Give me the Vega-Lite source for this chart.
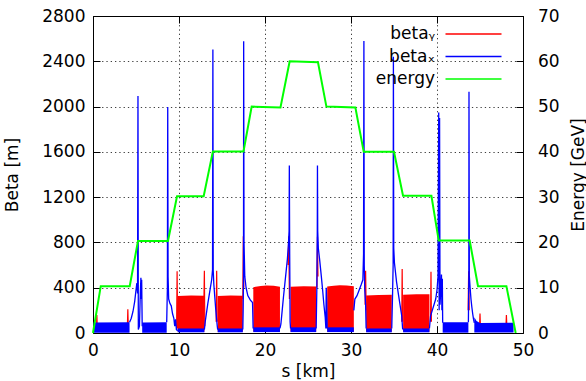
{
  "$schema": "https://vega.github.io/schema/vega-lite/v6.json",
  "width": 430,
  "height": 317,
  "autosize": {"type": "none"},
  "padding": {"left": 93, "top": 16, "right": 63, "bottom": 48},
  "background": "white",
  "config": {
    "font": "DejaVu Sans",
    "view": {"stroke": "black", "strokeWidth": 1},
    "axis": {
      "labelFont": "DejaVu Sans", "labelFontSize": 17, "labelColor": "black",
      "titleFont": "DejaVu Sans", "titleFontSize": 17, "titleFontWeight": "normal", "titleColor": "black",
      "domain": false, "tickColor": "black", "tickSize": -7, "tickWidth": 1,
      "gridColor": "black", "gridDash": [1.3, 3], "gridOpacity": 0.75, "gridWidth": 1,
      "labelFlush": false, "labelOverlap": false
    }
  },
  "datasets": {
    "ybands": [
      {"series": "beta_y", "seg": "R1", "s": 9.85, "lo": 10, "hi": 326},
      {"series": "beta_y", "seg": "R1", "s": 11.4, "lo": 10, "hi": 332},
      {"series": "beta_y", "seg": "R1", "s": 12.95, "lo": 10, "hi": 328},
      {"series": "beta_y", "seg": "R2", "s": 14.5, "lo": 10, "hi": 326},
      {"series": "beta_y", "seg": "R2", "s": 16.0, "lo": 10, "hi": 332},
      {"series": "beta_y", "seg": "R2", "s": 17.42, "lo": 10, "hi": 328},
      {"series": "beta_y", "seg": "R3", "s": 18.64, "lo": 10, "hi": 405},
      {"series": "beta_y", "seg": "R3", "s": 19.5, "lo": 10, "hi": 416},
      {"series": "beta_y", "seg": "R3", "s": 20.2, "lo": 10, "hi": 420},
      {"series": "beta_y", "seg": "R3", "s": 21.0, "lo": 10, "hi": 418},
      {"series": "beta_y", "seg": "R3", "s": 21.74, "lo": 10, "hi": 408},
      {"series": "beta_y", "seg": "R4", "s": 22.97, "lo": 10, "hi": 408},
      {"series": "beta_y", "seg": "R4", "s": 24.5, "lo": 10, "hi": 414},
      {"series": "beta_y", "seg": "R4", "s": 25.95, "lo": 10, "hi": 410},
      {"series": "beta_y", "seg": "R5", "s": 27.23, "lo": 10, "hi": 410},
      {"series": "beta_y", "seg": "R5", "s": 28.0, "lo": 10, "hi": 418},
      {"series": "beta_y", "seg": "R5", "s": 28.7, "lo": 10, "hi": 422},
      {"series": "beta_y", "seg": "R5", "s": 29.5, "lo": 10, "hi": 420},
      {"series": "beta_y", "seg": "R5", "s": 30.33, "lo": 10, "hi": 412},
      {"series": "beta_y", "seg": "R6", "s": 31.76, "lo": 10, "hi": 332},
      {"series": "beta_y", "seg": "R6", "s": 33.2, "lo": 10, "hi": 336},
      {"series": "beta_y", "seg": "R6", "s": 34.74, "lo": 10, "hi": 338},
      {"series": "beta_y", "seg": "R7", "s": 36.06, "lo": 10, "hi": 338},
      {"series": "beta_y", "seg": "R7", "s": 37.6, "lo": 10, "hi": 342},
      {"series": "beta_y", "seg": "R7", "s": 39.12, "lo": 10, "hi": 342}
    ],
    "ylines": [
      {"series": "beta_y", "seg": "ra", "s": 0.4, "beta": 40},
      {"series": "beta_y", "seg": "ra", "s": 0.45, "beta": 158},
      {"series": "beta_y", "seg": "ra", "s": 0.5, "beta": 40},
      {"series": "beta_y", "seg": "rb", "s": 4.0, "beta": 60},
      {"series": "beta_y", "seg": "rb", "s": 4.05, "beta": 210},
      {"series": "beta_y", "seg": "rb", "s": 4.1, "beta": 60},
      {"series": "beta_y", "seg": "rc", "s": 9.72, "beta": 40},
      {"series": "beta_y", "seg": "rc", "s": 9.78, "beta": 546},
      {"series": "beta_y", "seg": "rc", "s": 9.84, "beta": 40},
      {"series": "beta_y", "seg": "rd", "s": 12.9, "beta": 300},
      {"series": "beta_y", "seg": "rd", "s": 12.95, "beta": 550},
      {"series": "beta_y", "seg": "rd", "s": 13.0, "beta": 60},
      {"series": "beta_y", "seg": "re", "s": 14.32, "beta": 100},
      {"series": "beta_y", "seg": "re", "s": 14.38, "beta": 550},
      {"series": "beta_y", "seg": "re", "s": 14.44, "beta": 100},
      {"series": "beta_y", "seg": "rf", "s": 17.42, "beta": 300},
      {"series": "beta_y", "seg": "rf", "s": 17.48, "beta": 855},
      {"series": "beta_y", "seg": "rf", "s": 17.54, "beta": 400},
      {"series": "beta_y", "seg": "rg", "s": 22.68, "beta": 600},
      {"series": "beta_y", "seg": "rg", "s": 22.76, "beta": 855},
      {"series": "beta_y", "seg": "rg", "s": 22.84, "beta": 300},
      {"series": "beta_y", "seg": "rh", "s": 26.04, "beta": 400},
      {"series": "beta_y", "seg": "rh", "s": 26.1, "beta": 850},
      {"series": "beta_y", "seg": "rh", "s": 26.16, "beta": 500},
      {"series": "beta_y", "seg": "ri", "s": 31.64, "beta": 250},
      {"series": "beta_y", "seg": "ri", "s": 31.7, "beta": 550},
      {"series": "beta_y", "seg": "ri", "s": 31.76, "beta": 200},
      {"series": "beta_y", "seg": "rj", "s": 35.9, "beta": 100},
      {"series": "beta_y", "seg": "rj", "s": 35.95, "beta": 565},
      {"series": "beta_y", "seg": "rj", "s": 36.0, "beta": 100},
      {"series": "beta_y", "seg": "rk", "s": 39.25, "beta": 100},
      {"series": "beta_y", "seg": "rk", "s": 39.3, "beta": 540},
      {"series": "beta_y", "seg": "rk", "s": 39.35, "beta": 100},
      {"series": "beta_y", "seg": "rl", "s": 43.62, "beta": 200},
      {"series": "beta_y", "seg": "rl", "s": 43.68, "beta": 546},
      {"series": "beta_y", "seg": "rl", "s": 43.74, "beta": 200},
      {"series": "beta_y", "seg": "rm", "s": 44.95, "beta": 60},
      {"series": "beta_y", "seg": "rm", "s": 45.0, "beta": 171},
      {"series": "beta_y", "seg": "rm", "s": 45.05, "beta": 60},
      {"series": "beta_y", "seg": "rn", "s": 48.02, "beta": 60},
      {"series": "beta_y", "seg": "rn", "s": 48.07, "beta": 158},
      {"series": "beta_y", "seg": "rn", "s": 48.12, "beta": 60}
    ],
    "xbands": [
      {"series": "beta_x", "seg": "B1", "s": 0.05, "lo": 3, "hi": 92},
      {"series": "beta_x", "seg": "B1", "s": 4.25, "lo": 3, "hi": 95},
      {"series": "beta_x", "seg": "B2", "s": 5.72, "lo": 3, "hi": 92},
      {"series": "beta_x", "seg": "B2", "s": 8.57, "lo": 3, "hi": 95},
      {"series": "beta_x", "seg": "A1", "s": 9.85, "lo": 6, "hi": 40},
      {"series": "beta_x", "seg": "A1", "s": 12.95, "lo": 6, "hi": 40},
      {"series": "beta_x", "seg": "A2", "s": 14.5, "lo": 6, "hi": 40},
      {"series": "beta_x", "seg": "A2", "s": 17.42, "lo": 6, "hi": 40},
      {"series": "beta_x", "seg": "A3", "s": 18.64, "lo": 8, "hi": 50},
      {"series": "beta_x", "seg": "A3", "s": 21.74, "lo": 8, "hi": 50},
      {"series": "beta_x", "seg": "A4", "s": 22.97, "lo": 8, "hi": 50},
      {"series": "beta_x", "seg": "A4", "s": 25.95, "lo": 8, "hi": 50},
      {"series": "beta_x", "seg": "A5", "s": 27.23, "lo": 8, "hi": 50},
      {"series": "beta_x", "seg": "A5", "s": 30.33, "lo": 8, "hi": 50},
      {"series": "beta_x", "seg": "A6", "s": 31.76, "lo": 6, "hi": 40},
      {"series": "beta_x", "seg": "A6", "s": 34.74, "lo": 6, "hi": 40},
      {"series": "beta_x", "seg": "A7", "s": 36.06, "lo": 6, "hi": 40},
      {"series": "beta_x", "seg": "A7", "s": 39.12, "lo": 6, "hi": 40},
      {"series": "beta_x", "seg": "B4", "s": 40.66, "lo": 3, "hi": 95},
      {"series": "beta_x", "seg": "B4", "s": 43.65, "lo": 3, "hi": 95},
      {"series": "beta_x", "seg": "B5", "s": 44.34, "lo": 5, "hi": 140},
      {"series": "beta_x", "seg": "B5", "s": 44.6, "lo": 5, "hi": 105},
      {"series": "beta_x", "seg": "B5", "s": 45.0, "lo": 5, "hi": 88},
      {"series": "beta_x", "seg": "B5", "s": 48.9, "lo": 5, "hi": 90}
    ],
    "xlines": [
      {"series": "beta_x", "seg": "x1", "s": 4.25, "beta": 95},
      {"series": "beta_x", "seg": "x1", "s": 4.45, "beta": 130},
      {"series": "beta_x", "seg": "x1", "s": 4.65, "beta": 190},
      {"series": "beta_x", "seg": "x1", "s": 4.85, "beta": 280},
      {"series": "beta_x", "seg": "x1", "s": 5.0, "beta": 380},
      {"series": "beta_x", "seg": "x1", "s": 5.1, "beta": 440},
      {"series": "beta_x", "seg": "x1", "s": 5.18, "beta": 350},
      {"series": "beta_x", "seg": "x1", "s": 5.23, "beta": 2094},
      {"series": "beta_x", "seg": "x1", "s": 5.27, "beta": 30},
      {"series": "beta_x", "seg": "x1", "s": 5.4, "beta": 60},
      {"series": "beta_x", "seg": "x1", "s": 5.5, "beta": 350},
      {"series": "beta_x", "seg": "x1", "s": 5.57, "beta": 488},
      {"series": "beta_x", "seg": "x1", "s": 5.62, "beta": 300},
      {"series": "beta_x", "seg": "x1", "s": 5.66, "beta": 470},
      {"series": "beta_x", "seg": "x1", "s": 5.72, "beta": 60},
      {"series": "beta_x", "seg": "x2", "s": 8.57, "beta": 95},
      {"series": "beta_x", "seg": "x2", "s": 8.65, "beta": 400},
      {"series": "beta_x", "seg": "x2", "s": 8.69, "beta": 1996},
      {"series": "beta_x", "seg": "x2", "s": 8.73, "beta": 500},
      {"series": "beta_x", "seg": "x2", "s": 8.8, "beta": 300},
      {"series": "beta_x", "seg": "x2", "s": 8.95, "beta": 260},
      {"series": "beta_x", "seg": "x2", "s": 9.1, "beta": 240},
      {"series": "beta_x", "seg": "x2", "s": 9.25, "beta": 170},
      {"series": "beta_x", "seg": "x2", "s": 9.4, "beta": 130},
      {"series": "beta_x", "seg": "x2", "s": 9.5, "beta": 60},
      {"series": "beta_x", "seg": "x2", "s": 9.6, "beta": 120},
      {"series": "beta_x", "seg": "x2", "s": 9.7, "beta": 30},
      {"series": "beta_x", "seg": "x2", "s": 9.85, "beta": 20},
      {"series": "beta_x", "seg": "x3", "s": 12.95, "beta": 30},
      {"series": "beta_x", "seg": "x3", "s": 13.05, "beta": 100},
      {"series": "beta_x", "seg": "x3", "s": 13.2, "beta": 180},
      {"series": "beta_x", "seg": "x3", "s": 13.35, "beta": 260},
      {"series": "beta_x", "seg": "x3", "s": 13.5, "beta": 330},
      {"series": "beta_x", "seg": "x3", "s": 13.65, "beta": 400},
      {"series": "beta_x", "seg": "x3", "s": 13.8, "beta": 470},
      {"series": "beta_x", "seg": "x3", "s": 13.9, "beta": 560},
      {"series": "beta_x", "seg": "x3", "s": 13.94, "beta": 2505},
      {"series": "beta_x", "seg": "x3", "s": 13.98, "beta": 550},
      {"series": "beta_x", "seg": "x3", "s": 14.05, "beta": 430},
      {"series": "beta_x", "seg": "x3", "s": 14.15, "beta": 330},
      {"series": "beta_x", "seg": "x3", "s": 14.25, "beta": 230},
      {"series": "beta_x", "seg": "x3", "s": 14.35, "beta": 140},
      {"series": "beta_x", "seg": "x3", "s": 14.45, "beta": 60},
      {"series": "beta_x", "seg": "x3", "s": 14.5, "beta": 30},
      {"series": "beta_x", "seg": "x4", "s": 17.42, "beta": 30},
      {"series": "beta_x", "seg": "x4", "s": 17.46, "beta": 200},
      {"series": "beta_x", "seg": "x4", "s": 17.5, "beta": 500},
      {"series": "beta_x", "seg": "x4", "s": 17.52, "beta": 2576},
      {"series": "beta_x", "seg": "x4", "s": 17.56, "beta": 800},
      {"series": "beta_x", "seg": "x4", "s": 17.65, "beta": 500},
      {"series": "beta_x", "seg": "x4", "s": 17.8, "beta": 400},
      {"series": "beta_x", "seg": "x4", "s": 18.0, "beta": 330},
      {"series": "beta_x", "seg": "x4", "s": 18.3, "beta": 290},
      {"series": "beta_x", "seg": "x4", "s": 18.55, "beta": 270},
      {"series": "beta_x", "seg": "x4", "s": 18.62, "beta": 40},
      {"series": "beta_x", "seg": "x5", "s": 21.74, "beta": 40},
      {"series": "beta_x", "seg": "x5", "s": 21.85, "beta": 80},
      {"series": "beta_x", "seg": "x5", "s": 22.0, "beta": 200},
      {"series": "beta_x", "seg": "x5", "s": 22.15, "beta": 320},
      {"series": "beta_x", "seg": "x5", "s": 22.3, "beta": 430},
      {"series": "beta_x", "seg": "x5", "s": 22.45, "beta": 540},
      {"series": "beta_x", "seg": "x5", "s": 22.6, "beta": 650},
      {"series": "beta_x", "seg": "x5", "s": 22.72, "beta": 780},
      {"series": "beta_x", "seg": "x5", "s": 22.8, "beta": 900},
      {"series": "beta_x", "seg": "x5", "s": 22.83, "beta": 1480},
      {"series": "beta_x", "seg": "x5", "s": 22.87, "beta": 700},
      {"series": "beta_x", "seg": "x5", "s": 22.92, "beta": 100},
      {"series": "beta_x", "seg": "x5", "s": 22.97, "beta": 40},
      {"series": "beta_x", "seg": "x6", "s": 25.95, "beta": 40},
      {"series": "beta_x", "seg": "x6", "s": 26.03, "beta": 400},
      {"series": "beta_x", "seg": "x6", "s": 26.08, "beta": 900},
      {"series": "beta_x", "seg": "x6", "s": 26.1, "beta": 1480},
      {"series": "beta_x", "seg": "x6", "s": 26.13, "beta": 900},
      {"series": "beta_x", "seg": "x6", "s": 26.2, "beta": 750},
      {"series": "beta_x", "seg": "x6", "s": 26.35, "beta": 650},
      {"series": "beta_x", "seg": "x6", "s": 26.55, "beta": 500},
      {"series": "beta_x", "seg": "x6", "s": 26.7, "beta": 380},
      {"series": "beta_x", "seg": "x6", "s": 26.85, "beta": 250},
      {"series": "beta_x", "seg": "x6", "s": 27.0, "beta": 140},
      {"series": "beta_x", "seg": "x6", "s": 27.08, "beta": 40},
      {"series": "beta_x", "seg": "x6", "s": 27.12, "beta": 400},
      {"series": "beta_x", "seg": "x6", "s": 27.17, "beta": 300},
      {"series": "beta_x", "seg": "x6", "s": 27.23, "beta": 40},
      {"series": "beta_x", "seg": "x7", "s": 30.33, "beta": 200},
      {"series": "beta_x", "seg": "x7", "s": 30.45, "beta": 300},
      {"series": "beta_x", "seg": "x7", "s": 30.7, "beta": 330},
      {"series": "beta_x", "seg": "x7", "s": 30.95, "beta": 380},
      {"series": "beta_x", "seg": "x7", "s": 31.2, "beta": 430},
      {"series": "beta_x", "seg": "x7", "s": 31.38, "beta": 470},
      {"series": "beta_x", "seg": "x7", "s": 31.46, "beta": 700},
      {"series": "beta_x", "seg": "x7", "s": 31.5, "beta": 2580},
      {"series": "beta_x", "seg": "x7", "s": 31.54, "beta": 600},
      {"series": "beta_x", "seg": "x7", "s": 31.6, "beta": 380},
      {"series": "beta_x", "seg": "x7", "s": 31.7, "beta": 250},
      {"series": "beta_x", "seg": "x7", "s": 31.76, "beta": 40},
      {"series": "beta_x", "seg": "x8", "s": 34.74, "beta": 40},
      {"series": "beta_x", "seg": "x8", "s": 34.82, "beta": 300},
      {"series": "beta_x", "seg": "x8", "s": 34.9, "beta": 600},
      {"series": "beta_x", "seg": "x8", "s": 34.93, "beta": 2440},
      {"series": "beta_x", "seg": "x8", "s": 34.97, "beta": 750},
      {"series": "beta_x", "seg": "x8", "s": 35.05, "beta": 620},
      {"series": "beta_x", "seg": "x8", "s": 35.3, "beta": 450},
      {"series": "beta_x", "seg": "x8", "s": 35.6, "beta": 300},
      {"series": "beta_x", "seg": "x8", "s": 35.9, "beta": 150},
      {"series": "beta_x", "seg": "x8", "s": 36.0, "beta": 40},
      {"series": "beta_x", "seg": "x8", "s": 36.06, "beta": 30},
      {"series": "beta_x", "seg": "x9", "s": 39.12, "beta": 40},
      {"series": "beta_x", "seg": "x9", "s": 39.25, "beta": 150},
      {"series": "beta_x", "seg": "x9", "s": 39.45, "beta": 200},
      {"series": "beta_x", "seg": "x9", "s": 39.65, "beta": 250},
      {"series": "beta_x", "seg": "x9", "s": 39.85, "beta": 300},
      {"series": "beta_x", "seg": "x9", "s": 40.0, "beta": 380},
      {"series": "beta_x", "seg": "x9", "s": 40.12, "beta": 500},
      {"series": "beta_x", "seg": "x9", "s": 40.2, "beta": 1947},
      {"series": "beta_x", "seg": "x9", "s": 40.25, "beta": 200},
      {"series": "beta_x", "seg": "x9", "s": 40.3, "beta": 1900},
      {"series": "beta_x", "seg": "x9", "s": 40.35, "beta": 250},
      {"series": "beta_x", "seg": "x9", "s": 40.45, "beta": 400},
      {"series": "beta_x", "seg": "x9", "s": 40.52, "beta": 517},
      {"series": "beta_x", "seg": "x9", "s": 40.57, "beta": 200},
      {"series": "beta_x", "seg": "x9", "s": 40.62, "beta": 480},
      {"series": "beta_x", "seg": "x9", "s": 40.66, "beta": 90},
      {"series": "beta_x", "seg": "x10", "s": 43.65, "beta": 95},
      {"series": "beta_x", "seg": "x10", "s": 43.7, "beta": 500},
      {"series": "beta_x", "seg": "x10", "s": 43.72, "beta": 2132},
      {"series": "beta_x", "seg": "x10", "s": 43.76, "beta": 500},
      {"series": "beta_x", "seg": "x10", "s": 43.85, "beta": 400},
      {"series": "beta_x", "seg": "x10", "s": 43.95, "beta": 300},
      {"series": "beta_x", "seg": "x10", "s": 44.05, "beta": 230},
      {"series": "beta_x", "seg": "x10", "s": 44.15, "beta": 170},
      {"series": "beta_x", "seg": "x10", "s": 44.25, "beta": 120},
      {"series": "beta_x", "seg": "x10", "s": 44.34, "beta": 90}
    ],
    "energy": [
      {"s": 0.0, "E": 0},
      {"s": 0.9, "E": 10.35},
      {"s": 4.27, "E": 10.35},
      {"s": 5.23, "E": 20.3},
      {"s": 8.72, "E": 20.3},
      {"s": 9.77, "E": 30.2},
      {"s": 12.87, "E": 30.2},
      {"s": 13.94, "E": 40.1},
      {"s": 17.5, "E": 40.1},
      {"s": 18.45, "E": 50.0},
      {"s": 21.8, "E": 49.8},
      {"s": 22.87, "E": 60.0},
      {"s": 26.16, "E": 59.8},
      {"s": 27.14, "E": 50.0},
      {"s": 30.51, "E": 49.8},
      {"s": 31.48, "E": 40.0},
      {"s": 35.0, "E": 40.0},
      {"s": 36.05, "E": 30.3},
      {"s": 39.35, "E": 30.3},
      {"s": 40.2, "E": 20.4},
      {"s": 43.8, "E": 20.4},
      {"s": 44.77, "E": 10.35},
      {"s": 48.07, "E": 10.35},
      {"s": 49.15, "E": 0}
    ]
  },
  "layer": [
    {
      "layer": [
        {
          "data": {"name": "ybands"},
          "mark": {"type": "area", "opacity": 1},
          "encoding": {
            "x": {"field": "s", "type": "quantitative", "scale": {"domain": [0, 50], "nice": false},
              "axis": {"values": [0, 10, 20, 30, 40, 50], "title": "s [km]", "titleX": 215, "titleY": 38, "titleAlign": "center", "titleBaseline": "middle", "labelPadding": 16.5, "grid": true}},
            "y": {"field": "lo", "type": "quantitative", "scale": {"domain": [0, 2800], "nice": false},
              "axis": {"values": [0, 400, 800, 1200, 1600, 2000, 2400, 2800], "format": "d", "title": "Beta [m]", "titleX": -81, "titleY": 158.5, "titleAngle": 270, "titleAlign": "center", "titleBaseline": "middle", "labelPadding": 15, "grid": true}},
            "y2": {"field": "hi"},
            "fill": {"field": "series", "type": "nominal", "scale": {"domain": ["beta_y", "beta_x"], "range": ["#ff0000", "#0000ff"]}, "legend": null},
            "detail": {"field": "seg"}
          }
        },
        {
          "data": {"name": "ylines"},
          "mark": {"type": "line", "strokeWidth": 1.2},
          "encoding": {
            "x": {"field": "s", "type": "quantitative"},
            "y": {"field": "beta", "type": "quantitative"},
            "stroke": {"field": "series", "type": "nominal",
              "scale": {"domain": ["beta_y", "beta_x", "energy"], "range": ["#ff0000", "#0000ff", "#00ff00"]},
              "legend": {
                "title": null, "orient": "none", "legendX": 372, "legendY": 9.5, "padding": 0,
                "symbolType": "M-4,0H4", "symbolSize": 196, "symbolStrokeWidth": 1.5,
                "labelAlign": "right", "labelOffset": -47, "labelFontSize": 17, "labelFont": "DejaVu Sans", "labelColor": "black",
                "rowPadding": 4.5,
                "labelExpr": "datum.label == 'beta_y' ? 'betaᵧ' : datum.label == 'beta_x' ? 'betaₓ' : datum.label"
              }},
            "detail": {"field": "seg"}
          }
        },
        {
          "data": {"name": "xbands"},
          "mark": {"type": "area", "opacity": 1},
          "encoding": {
            "x": {"field": "s", "type": "quantitative"},
            "y": {"field": "lo", "type": "quantitative"},
            "y2": {"field": "hi"},
            "fill": {"field": "series", "type": "nominal", "legend": null},
            "detail": {"field": "seg"}
          }
        },
        {
          "data": {"name": "xlines"},
          "mark": {"type": "line", "strokeWidth": 1.3},
          "encoding": {
            "x": {"field": "s", "type": "quantitative"},
            "y": {"field": "beta", "type": "quantitative"},
            "stroke": {"field": "series", "type": "nominal"},
            "detail": {"field": "seg"}
          }
        }
      ]
    },
    {
      "data": {"name": "energy"},
      "mark": {"type": "line", "strokeWidth": 2},
      "encoding": {
        "x": {"field": "s", "type": "quantitative",
          "axis": {"orient": "top", "values": [0, 10, 20, 30, 40, 50], "labels": false, "grid": false, "title": null}},
        "y": {"field": "E", "type": "quantitative", "scale": {"domain": [0, 70], "nice": false},
          "axis": {"orient": "right", "values": [0, 10, 20, 30, 40, 50, 60, 70], "title": "Energy [GeV]", "titleX": 55, "titleY": 158.5, "titleAngle": 270, "titleAlign": "center", "titleBaseline": "middle", "labelPadding": 21.5, "grid": false}},
        "stroke": {"datum": "energy", "type": "nominal"}
      }
    }
  ],
  "resolve": {"scale": {"y": "independent"}, "axis": {"x": "independent"}}
}
